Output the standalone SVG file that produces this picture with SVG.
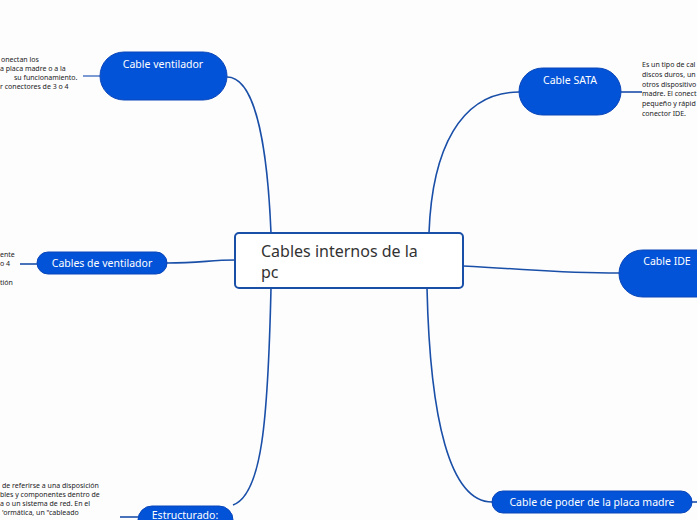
<svg xmlns="http://www.w3.org/2000/svg" width="697" height="520" viewBox="0 0 697 520">
<style>
.bg{fill:#fdfdfe}
.node{fill:#0353d8;stroke:#0a46b8;stroke-width:1}
.nt{font-family:"Noto Sans","Lato",sans-serif;font-size:10.5px;fill:#ffffff;text-anchor:middle}
.main{fill:#ffffff;stroke:#1a4fa8;stroke-width:2}
.mt{font-family:"Noto Sans","Lato",sans-serif;font-size:16px;fill:#333333}
.con{fill:none;stroke:#1a4fa8;stroke-width:1.6}
.note{font-family:"Noto Sans","Lato",sans-serif;font-size:7px;fill:#222222}
</style>
<rect class="bg" width="697" height="520"/>
<g id="connectors">
<path class="con" d="M227,77 C258,77 268,160 271,233"/>
<path class="con" d="M519,92 C460,92 432,150 429,233"/>
<path class="con" d="M463,266 C540,270 560,273 619,273"/>
<path class="con" d="M167,263 C200,263 210,260 235,260"/>
<path class="con" d="M233,505 C262,495 268,420 271,288"/>
<path class="con" d="M427,288 C430,420 450,502 492,502"/>
<path class="con" d="M83,76 L100,76" style="stroke:#5a80c8"/>
<path class="con" d="M621,92 L642,92"/>
<path class="con" d="M20,264 L37,264"/>
<path class="con" d="M120,517 L138,517"/>
<path class="con" d="M692,502 L697,502"/>
</g>
<g id="central">
<rect class="main" x="235" y="233" width="228" height="55" rx="4"/>
<text class="mt" x="261" y="257">Cables internos de la</text>
<text class="mt" x="261" y="278">pc</text>
</g>
<g id="cable-ventilador">
<rect class="node" x="100" y="52" width="127" height="48" rx="24"/>
<text class="nt" x="163" y="68">Cable ventilador</text>
</g>
<g id="cable-ventilador-note">
<text class="note" x="1" y="62">onectan los</text>
<text class="note" x="0" y="71">a placa madre o a la</text>
<text class="note" x="14" y="80">su funcionamiento.</text>
<text class="note" x="0" y="89">r conectores de 3 o 4</text>
</g>
<g id="cable-sata">
<rect class="node" x="519" y="68" width="102" height="47" rx="23.5"/>
<text class="nt" x="570" y="84">Cable SATA</text>
</g>
<g id="cable-sata-note">
<text class="note" x="642" y="67">Es un tipo de cal</text>
<text class="note" x="642" y="77">discos duros, un</text>
<text class="note" x="642" y="87">otros dispositivo</text>
<text class="note" x="642" y="96">madre. El conect</text>
<text class="note" x="642" y="106">pequeño y rápid</text>
<text class="note" x="642" y="116">conector IDE.</text>
</g>
<g id="cable-ide">
<rect class="node" x="619" y="250" width="110" height="47" rx="23.5"/>
<text class="nt" x="667" y="265">Cable IDE</text>
</g>
<g id="cables-de-ventilador">
<rect class="node" x="37" y="252" width="130" height="22" rx="11"/>
<text class="nt" x="102" y="267">Cables de ventilador</text>
</g>
<g id="cables-de-ventilador-note">
<text class="note" x="0" y="257">ente</text>
<text class="note" x="0" y="266">o 4</text>
<text class="note" x="0" y="285">tión</text>
</g>
<g id="estructurado">
<rect class="node" x="138" y="506" width="95" height="40" rx="14"/>
<text class="nt" x="185" y="519">Estructurado:</text>
</g>
<g id="estructurado-note">
<text class="note" x="2" y="488">de referirse a una disposición</text>
<text class="note" x="0" y="497">bles y componentes dentro de</text>
<text class="note" x="0" y="506">a o un sistema de red. En el</text>
<text class="note" x="2" y="515">'ormática, un "cableado</text>
</g>
<g id="cable-poder">
<rect class="node" x="492" y="491" width="200" height="22" rx="11"/>
<text class="nt" x="592" y="506">Cable de poder de la placa madre</text>
</g>
</svg>
